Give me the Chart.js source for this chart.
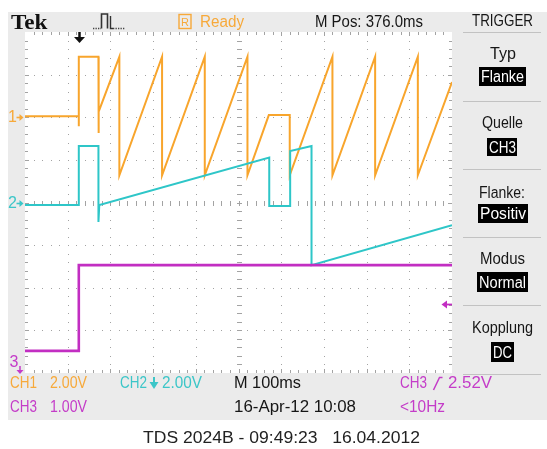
<!DOCTYPE html>
<html>
<head>
<meta charset="utf-8">
<title>Tek TDS 2024B</title>
<script src="https://cdn.jsdelivr.net/npm/chart.js@4.4.1/dist/chart.umd.min.js"></script>
<style>
html,body{margin:0;padding:0;background:#fff;}
#wrap{position:relative;width:547px;height:449px;overflow:hidden;background:#fff;}
#panel{position:absolute;left:8px;top:12px;width:539px;height:408px;background:#ebebeb;}
#grat{position:absolute;left:25px;top:32px;width:427px;height:341px;background:#fff;}
#c{position:absolute;left:0;top:0;}
.t{position:absolute;white-space:pre;transform-origin:0 50%;}
.sep{position:absolute;left:463px;width:78px;height:1px;background:#c2c2c2;}
.box{position:absolute;background:#000;}
svg{position:absolute;left:0;top:0;}
</style>
</head>
<body>
<div id="wrap">
  <div id="panel"></div>
  <div id="grat"></div>
  <canvas id="c" width="547" height="449"></canvas>
</div>
<script>
// ---------------- data ----------------
const channelNames = ['CH1', 'CH2', 'CH3'];
const voltsPerDiv  = [2.00, 2.00, 1.00];
const groundDiv    = [2.0, 0.0, -4.91];      // ground reference level in divisions from centre
const timePerDivMs = 100;
const xDivisions = 10;
const yDivisions = 8;
const triggerTimeMs = 126;
const triggerLevelV = 2.52;                  // CH3 rising edge

// CH1 (orange) sawtooth
const ch1Time  = [0, 126, 126, 126, 172, 172, 173, 221, 221, 321, 321, 421, 421, 521, 521, 571, 620, 620, 720, 720, 820, 820, 920, 920, 1000];
const ch1Volts = [0.05, 0.05, -0.42, 2.84, 2.84, -0.74, 0.26, 2.84, -2.72, 2.84, -2.72, 2.84, -2.72, 2.84, -2.72, 0.10, 0.10, -2.72, 2.84, -2.72, 2.84, -2.72, 2.84, -2.72, 1.65];
// CH2 (cyan) slow ramp
const ch2Time  = [0, 126, 126, 172, 172, 174, 572, 572, 621, 621, 671, 671, 1000];
const ch2Volts = [-0.12, -0.12, 2.65, 2.65, -0.91, -0.12, 2.11, -0.16, -0.16, 2.41, 2.65, -2.94, -1.06];
// CH3 (magenta) step
const ch3Time  = [0, 126, 126, 1000];
const ch3Volts = [1.43, 1.43, 3.44, 3.44];

// ---------------- rendering ----------------
const COLORS = ['#f8a52c', '#2ec6c8', '#c22ec2'];
const TEXTCOL = ['#f7a93a', '#3cc6c8', '#c43cc8'];
const NARROW = "'Liberation Sans Narrow','Liberation Sans',Arial,sans-serif";
const wrap = document.getElementById('wrap');
const mctx = document.createElement('canvas').getContext('2d');

function label(str, x, yc, w, o = {}) {
  const size = o.size || 16, fam = o.family || NARROW, weight = o.weight || 'normal';
  const el = document.createElement('div');
  el.className = 't';
  el.textContent = str;
  el.style.font = weight + ' ' + size + 'px ' + fam;
  el.style.lineHeight = size + 'px';
  el.style.color = o.color || '#161616';
  mctx.font = weight + ' ' + size + 'px ' + fam;
  const nat = mctx.measureText(str).width;
  el.style.left = x + 'px';
  el.style.top = (yc - size * 0.49) + 'px';
  el.style.transform = 'scaleX(' + (w / nat) + ')';
  wrap.appendChild(el);
}
function box(str, l, t, r, b, tw) {
  const d = document.createElement('div');
  d.className = 'box';
  d.style.left = l + 'px'; d.style.top = t + 'px';
  d.style.width = (r - l) + 'px'; d.style.height = (b - t) + 'px';
  wrap.appendChild(d);
  label(str, l + ((r - l) - tw) / 2, (t + b) / 2 + 0.5, tw, {color: '#fff'});
}
function sep(y) {
  const d = document.createElement('div');
  d.className = 'sep'; d.style.top = y + 'px';
  wrap.appendChild(d);
}

// top bar
label('Tek', 10.5, 22, 36.5, {size: 20, weight: 'bold', family: "'Liberation Serif','DejaVu Serif',serif", color: '#111'});
label('Ready', 200, 22, 44, {color: TEXTCOL[0]});
label('M Pos: 376.0ms', 315, 22, 108);
label('TRIGGER', 472, 21, 61);
sep(32);

// right trigger menu
label('Typ', 490, 54, 26);
box('Flanke', 479, 67, 526, 86, 43);
sep(101);
label('Quelle', 482, 123, 41);
box(channelNames[2], 487, 138, 517, 156, 27);
sep(169);
label('Flanke:', 479, 193, 46);
box('Positiv', 478, 204, 528, 223, 46);
sep(237);
label('Modus', 480, 259, 45);
box('Normal', 477, 272, 528, 292, 47);
sep(305);
label('Kopplung', 472, 328, 61);
box('DC', 491, 342, 514, 362, 19);
sep(374);

// status bar
label(channelNames[0], 10, 383, 27, {color: TEXTCOL[0]});
label(voltsPerDiv[0].toFixed(2) + 'V', 50, 383, 37, {color: TEXTCOL[0]});
label(channelNames[1], 120, 383, 27, {color: TEXTCOL[1]});
label(voltsPerDiv[1].toFixed(2) + 'V', 162, 383, 40, {color: TEXTCOL[1]});
label('M 100ms', 234, 383, 67);
label(channelNames[2], 400, 383, 27, {color: TEXTCOL[2]});
label(triggerLevelV.toFixed(2) + 'V', 448, 383, 44, {color: TEXTCOL[2]});
label(channelNames[2], 10, 407, 27, {color: TEXTCOL[2]});
label(voltsPerDiv[2].toFixed(2) + 'V', 50, 407, 37, {color: TEXTCOL[2]});
label('16-Apr-12 10:08', 234, 407, 122);
label('<10Hz', 400, 407, 45, {color: TEXTCOL[2]});
label('TDS 2024B - 09:49:23   16.04.2012', 143, 437.5, 277, {family: "'Liberation Sans',Arial,sans-serif", color: '#222'});

// small icons
const svgNS = 'http://www.w3.org/2000/svg';
const svg = document.createElementNS(svgNS, 'svg');
svg.setAttribute('width', 547); svg.setAttribute('height', 449);
svg.innerHTML =
  '<path d="M93,28.5 H101" stroke="#444" stroke-width="1.3" stroke-dasharray="1.3,1.2" fill="none"/>' +
  '<path d="M101.5,28.5 V14 H107.5 V28.5" stroke="#333" stroke-width="1.6" fill="none"/>' +
  '<path d="M110.5,16 V28.5 H113" stroke="#333" stroke-width="1.4" fill="none"/>' +
  '<path d="M113,28.5 H125" stroke="#444" stroke-width="1.3" stroke-dasharray="1.3,1.2" fill="none"/>' +
  '<rect x="179" y="14.5" width="12" height="14" fill="none" stroke="' + TEXTCOL[0] + '" stroke-width="1.4"/>' +
  '<text x="185" y="26" font-family="Liberation Sans,Arial" font-size="11" fill="' + TEXTCOL[0] + '" text-anchor="middle">R</text>' +
  '<path d="M154,377 V383" stroke="' + TEXTCOL[1] + '" stroke-width="2"/>' +
  '<path d="M149.5,382 H158.5 L154,389 Z" fill="' + TEXTCOL[1] + '"/>' +
  '<path d="M433.5,390 L439.5,377.5 H442.5" stroke="' + TEXTCOL[2] + '" stroke-width="1.5" fill="none"/>';
wrap.appendChild(svg);

// ------------- chart -------------
function toPoints(times, volts, ch) {
  return times.map((t, i) => ({x: t, y: volts[i] / voltsPerDiv[ch] + groundDiv[ch]}));
}

function arrowRight(ctx, x, y, color) {
  ctx.strokeStyle = color; ctx.fillStyle = color; ctx.lineWidth = 1.6;
  ctx.beginPath(); ctx.moveTo(x, y); ctx.lineTo(x + 4, y); ctx.stroke();
  ctx.beginPath(); ctx.moveTo(x + 3, y - 3.5); ctx.lineTo(x + 7, y); ctx.lineTo(x + 3, y + 3.5); ctx.closePath(); ctx.fill();
}

const graticule = {
  id: 'graticule',
  beforeDatasetsDraw(chart) {
    const {ctx, chartArea: a, scales: {x, y}} = chart;
    const X = v => Math.round(x.getPixelForValue(v));
    const Y = v => Math.round(y.getPixelForValue(v));
    const half = yDivisions / 2, xMax = xDivisions * timePerDivMs, sub = timePerDivMs / 5;
    ctx.save();
    ctx.fillStyle = '#a3a3a3';
    for (let i = 1; i < xDivisions; i++) {
      if (i === xDivisions / 2) continue;
      const px = X(i * timePerDivMs);
      for (let k = 1; k < yDivisions * 5; k++) ctx.fillRect(px, Y(-half + k * 0.2), 1, 1);
    }
    for (let j = 1; j < yDivisions; j++) {
      if (j === half) continue;
      const py = Y(-half + j);
      for (let k = 1; k < xDivisions * 5; k++) ctx.fillRect(X(k * sub), py, 1, 1);
    }
    const cx = X(xMax / 2), cy = Y(0);
    for (let k = 1; k < xDivisions * 5; k++) ctx.fillRect(X(k * sub), cy - 2, 1, 5);
    for (let k = 1; k < yDivisions * 5; k++) ctx.fillRect(cx - 2, Y(-half + k * 0.2), 5, 1);
    for (let k = 1; k < xDivisions * 5; k++) {
      const px = X(k * sub), len = (k % 5 === 0) ? 4 : 3;
      ctx.fillRect(px, a.top, 1, len);
      ctx.fillRect(px, a.bottom - len, 1, len);
    }
    for (let k = 1; k < yDivisions * 5; k++) {
      const py = Y(-half + k * 0.2), len = (k % 5 === 0) ? 4 : 3;
      ctx.fillRect(a.left, py, len, 1);
      ctx.fillRect(a.right - len, py, len, 1);
    }
    ctx.restore();
  },
  afterDatasetsDraw(chart) {
    const {ctx, chartArea: a, scales: {x, y}} = chart;
    ctx.save();
    ctx.font = '16px ' + NARROW;
    ctx.textBaseline = 'middle';
    // ground markers CH1, CH2
    [0, 1].forEach(ch => {
      const py = Math.round(y.getPixelForValue(groundDiv[ch])) + 0.5;
      ctx.fillStyle = TEXTCOL[ch];
      ctx.fillText(String(ch + 1), 8, py + 0.5);
      arrowRight(ctx, 16.5, py, TEXTCOL[ch]);
    });
    // CH3 ground is below the screen
    ctx.fillStyle = TEXTCOL[2];
    ctx.fillText('3', 9.5, a.bottom - 10);
    ctx.strokeStyle = TEXTCOL[2]; ctx.lineWidth = 1.5;
    ctx.beginPath(); ctx.moveTo(20, a.bottom - 7); ctx.lineTo(20, a.bottom - 1); ctx.stroke();
    ctx.beginPath(); ctx.moveTo(16.5, a.bottom - 3); ctx.lineTo(23.5, a.bottom - 3); ctx.lineTo(20, a.bottom + 1); ctx.closePath(); ctx.fill();
    // trigger position arrow
    const tx = Math.round(x.getPixelForValue(triggerTimeMs)) + 0.5;
    ctx.fillStyle = '#111'; ctx.strokeStyle = '#111'; ctx.lineWidth = 2.5;
    ctx.beginPath(); ctx.moveTo(tx, a.top); ctx.lineTo(tx, a.top + 6); ctx.stroke();
    ctx.beginPath(); ctx.moveTo(tx - 5.5, a.top + 5); ctx.lineTo(tx + 5.5, a.top + 5); ctx.lineTo(tx, a.top + 11); ctx.closePath(); ctx.fill();
    // trigger level arrow (CH3)
    const ly = Math.round(y.getPixelForValue(groundDiv[2] + triggerLevelV / voltsPerDiv[2])) + 0.5;
    ctx.fillStyle = COLORS[2]; ctx.strokeStyle = COLORS[2]; ctx.lineWidth = 1.8;
    ctx.beginPath(); ctx.moveTo(a.right - 6, ly); ctx.lineTo(a.right, ly); ctx.stroke();
    ctx.beginPath(); ctx.moveTo(a.right - 5, ly - 4); ctx.lineTo(a.right - 10.5, ly); ctx.lineTo(a.right - 5, ly + 4); ctx.closePath(); ctx.fill();
    ctx.restore();
  }
};

const series = [[ch1Time, ch1Volts], [ch2Time, ch2Volts], [ch3Time, ch3Volts]];
new Chart(document.getElementById('c'), {
  type: 'scatter',
  data: {
    datasets: series.map((s, ch) => ({
      label: channelNames[ch],
      data: toPoints(s[0], s[1], ch),
      showLine: true,
      borderColor: COLORS[ch],
      backgroundColor: COLORS[ch],
      borderWidth: ch === 2 ? 2.6 : 2,
      pointRadius: 0,
      tension: 0,
      borderJoinStyle: 'miter'
    })).reverse()
  },
  options: {
    responsive: false,
    animation: false,
    devicePixelRatio: 1,
    events: [],
    layout: {padding: {left: 25, top: 32, right: 95, bottom: 76}},
    plugins: {legend: {display: false}, tooltip: {enabled: false}},
    scales: {
      x: {type: 'linear', min: 0, max: xDivisions * timePerDivMs, display: false},
      y: {type: 'linear', min: -yDivisions / 2, max: yDivisions / 2, display: false}
    }
  },
  plugins: [graticule]
});
</script>
</body>
</html>
